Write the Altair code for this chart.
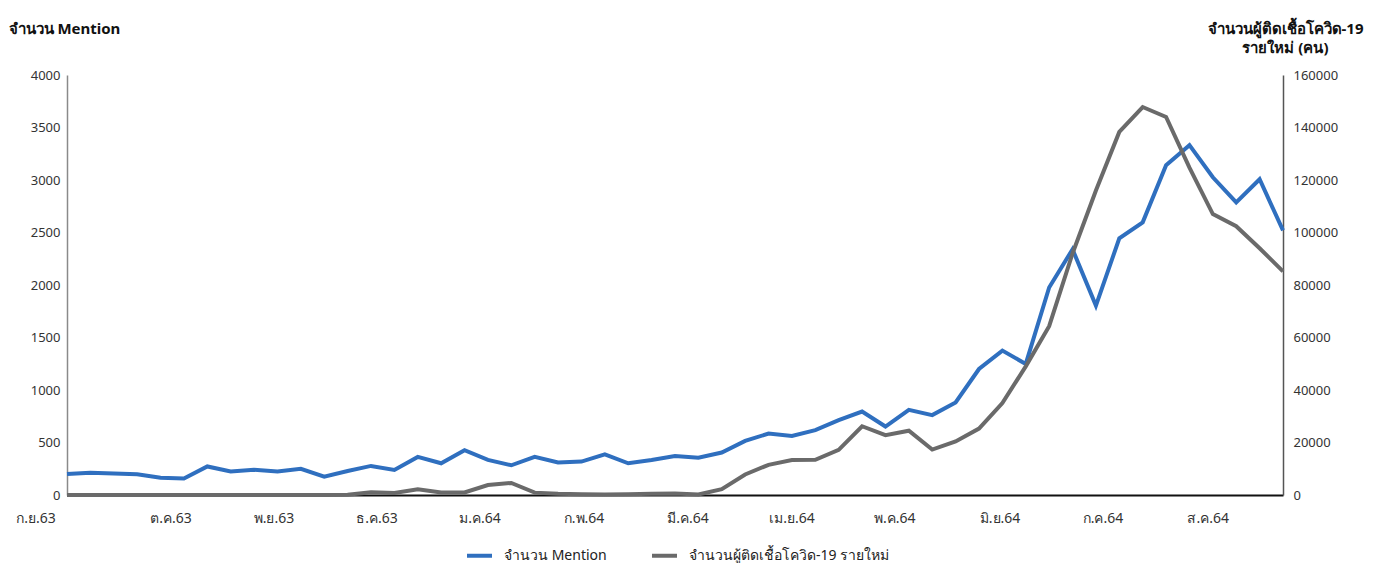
import altair as alt
import pandas as pd

# ---- data (weekly) ----
weeks = list(range(53))
mentions = [200, 213, 205, 198, 165, 158, 272, 225, 240, 225,
            250, 175, 229, 277, 239, 363, 302, 427, 334, 283,
            363, 310, 318, 388, 302, 334, 372, 356, 404, 515,
            585, 563, 618, 713, 795, 652, 811, 761, 881, 1200,
            1375, 1248, 1976, 2340, 1804, 2444, 2597, 3141, 3332, 3026,
            2787, 3007, 2520]
cases = [40, 40, 40, 40, 40, 40, 40, 40, 40, 40,
         40, 40, 60, 1000, 800, 2200, 1000, 1000, 3800, 4600,
         900, 500, 300, 200, 300, 500, 600, 200, 2200, 7800,
         11500, 13300, 13400, 17200, 26200, 22800, 24500, 17300, 20400, 25300,
         35000, 49000, 64300, 92000, 116000, 138300, 147800, 144000, 124700, 107000,
         102400, 94000, 85200]
month_labels = ["ก.ย.63", "ต.ค.63", "พ.ย.63", "ธ.ค.63", "ม.ค.64", "ก.พ.64",
                "มี.ค.64", "เม.ย.64", "พ.ค.64", "มิ.ย.64", "ก.ค.64", "ส.ค.64"]
month_pos = [-1.33, 4.45, 8.85, 13.26, 17.66, 22.11, 26.56, 31.0, 35.4, 39.9, 44.3, 48.8]

S1 = "จำนวน Mention"
S2 = "จำนวนผู้ติดเชื้อโควิด-19 รายใหม่"
LEFT_TITLE = "จำนวน Mention"
RIGHT_TITLE = ["จำนวนผู้ติดเชื้อโควิด-19", "รายใหม่ (คน)"]

BLUE = "#2f6fbf"
GRAY = "#6a6a6a"
FONT = "Noto Sans"

df1 = pd.DataFrame({"week": weeks, "value": mentions, "series": S1})
df2 = pd.DataFrame({"week": weeks, "value": cases, "series": S2})
dfm = pd.DataFrame({"pos": month_pos, "label": month_labels})

W, H = 1216, 420

xscale = alt.Scale(domain=[0, 52], nice=False, zero=False)
x_axis = alt.Axis(title=None, labels=False, ticks=False, grid=False,
                  domainColor="#111111", domainWidth=2)

color = alt.Color(
    "series:N",
    scale=alt.Scale(domain=[S1, S2], range=[BLUE, GRAY]),
    legend=alt.Legend(title=None, orient="none", legendX=398, legendY=466,
                      direction="horizontal", symbolType="stroke",
                      symbolStrokeWidth=4, symbolSize=625,
                      labelFontSize=14, labelFont=FONT, labelColor="#222222",
                      labelLimit=400,
                      columnPadding=37, labelOffset=10),
)

blue = alt.Chart(df1).mark_line(strokeWidth=4).encode(
    x=alt.X("week:Q", scale=xscale, axis=x_axis),
    y=alt.Y("value:Q", scale=alt.Scale(domain=[0, 4000], nice=False),
            axis=alt.Axis(orient="left", values=list(range(0, 4001, 500)), format="d",
                          grid=False, ticks=False, domainColor="#8a8a8a", domainWidth=1.5,
                          labelPadding=7,
                          title=LEFT_TITLE, titleAngle=0, titleX=-59, titleY=-42,
                          titleAlign="left", titleBaseline="alphabetic",
                          titleFontWeight="bold", titleFontSize=15)),
    color=color,
)

gray = alt.Chart(df2).mark_line(strokeWidth=4).encode(
    x=alt.X("week:Q", scale=xscale, axis=x_axis),
    y=alt.Y("value:Q", scale=alt.Scale(domain=[0, 160000], nice=False),
            axis=alt.Axis(orient="right", values=list(range(0, 160001, 20000)), format="d",
                          grid=False, ticks=False, domainColor="#555555", domainWidth=1.5,
                          labelPadding=10,
                          title=RIGHT_TITLE, titleAngle=0, titleX=2, titleY=-42,
                          titleAlign="center", titleBaseline="alphabetic",
                          titleLineHeight=19,
                          titleFontWeight="bold", titleFontSize=15)),
    color=color,
)

months = alt.Chart(dfm).mark_text(fontSize=14, font=FONT, color="#333333",
                                  baseline="middle", align="center").encode(
    x=alt.X("pos:Q", scale=xscale, axis=x_axis),
    y=alt.value(H + 24),
    text="label:N",
)

chart = alt.layer(blue, gray, months).resolve_scale(y="independent").properties(
    width=W, height=H,
    padding={"left": 0, "top": 13, "right": 10, "bottom": 0},
).configure_view(stroke=None).configure_axis(
    labelFont=FONT, labelFontSize=13, labelColor="#333333",
    titleFont=FONT, titleColor="#111111",
)

chart.save("out.html", embed_options={"renderer": "svg", "actions": False})
